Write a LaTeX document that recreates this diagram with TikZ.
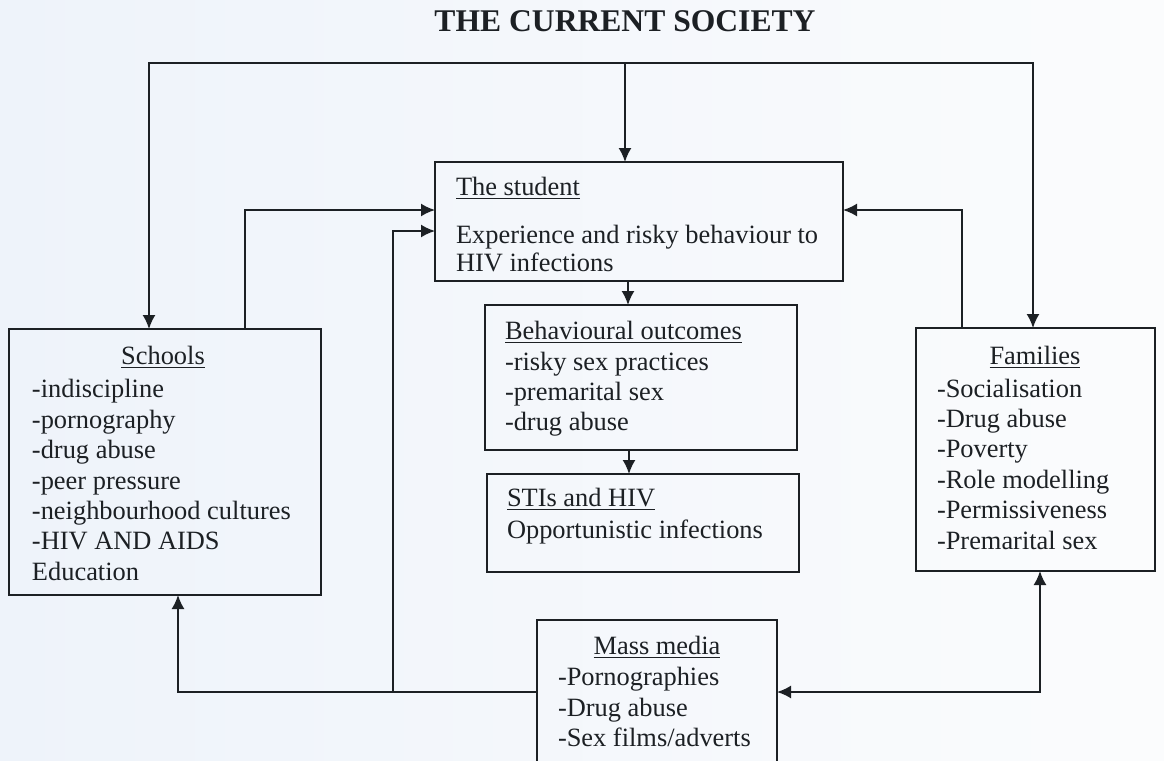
\documentclass[tikz,border=0pt]{standalone}
\usepackage{fontspec}
\setmainfont{Liberation Serif}
\usepackage{xcolor}
\usetikzlibrary{calc,shapes,arrows.meta}

\definecolor{ink}{RGB}{28,32,36}
\definecolor{paperL}{RGB}{238,243,250}
\definecolor{paperR}{RGB}{251,252,253}

\begin{document}
\begin{tikzpicture}[x=0.5pt, y=-0.5pt,
    box/.style={rectangle, draw=ink, line width=1pt, inner sep=0pt, outer sep=0pt, anchor=north west},
    txt/.style={inner sep=0pt, outer sep=0pt, text=ink, align=left, font=\fontsize{13.2}{15.2}\selectfont},
    arr/.style={draw=ink, line width=0.9pt, -{Latex[length=7pt,width=6.5pt]}},
    arrboth/.style={draw=ink, line width=0.9pt, {Latex[length=7pt,width=6.5pt]}-{Latex[length=7pt,width=6.5pt]}}]
    \useasboundingbox (0,0) rectangle (1164,761);
    \shade[left color=paperL, right color=paperR] (0,0) rectangle (1164,761);
    \clip (0,0) rectangle (1164,761);
    % Place nodes
    \node [txt, font=\fontsize{15.8}{18}\selectfont\bfseries] (title) at (625,21) {THE CURRENT SOCIETY};
    \node [box, minimum width=204pt, minimum height=59.5pt] (student) at (435,162) {};
    \node [box, minimum width=156pt, minimum height=72.5pt] (behav) at (485,305) {};
    \node [box, minimum width=156pt, minimum height=49pt] (sti) at (487,474) {};
    \node [box, minimum width=120pt, minimum height=80pt] (media) at (537,620) {};
    \node [box, minimum width=156pt, minimum height=133pt] (schools) at (9,329) {};
    \node [box, minimum width=119.5pt, minimum height=121.5pt] (families) at (916,328) {};
    % Texts in the boxes
    \node [txt, anchor=west] (stuTitle) at (456,188) {\underline{The student}};
    \node [txt, anchor=west] (stuText) at (456,249) {Experience and risky behaviour to\\[-1.2pt]HIV infections};
    \node [txt, anchor=west] (behText) at (505,379) {\underline{Behavioural outcomes}\\-risky sex practices\\-premarital sex\\-drug abuse};
    \node [txt, anchor=west] (stiText) at (507,516) {\underline{STIs and HIV}\\[0.8pt]Opportunistic infections};
    \node [txt] (medTitle) at (657,647) {\underline{Mass media}};
    \node [txt, anchor=west] (medList) at (558,707) {-Pornographies\\-Drug abuse\\-Sex films/adverts};
    \node [txt] (schTitle) at (163,357) {\underline{Schools}};
    \node [txt, anchor=west] (schList) at (32,480) {-indiscipline\\-pornography\\-drug abuse\\-peer pressure\\-neighbourhood cultures\\-HIV AND AIDS\\Education};
    \node [txt] (famTitle) at (1035,357) {\underline{Families}};
    \node [txt, anchor=west] (famList) at (937,464) {-Socialisation\\-Drug abuse\\-Poverty\\-Role modelling\\-Permissiveness\\-Premarital sex};
    % Bends of the connectors
    \coordinate (topL) at (149,63);
    \coordinate (topM) at (625,63);
    \coordinate (topR) at (1033,63);
    \coordinate (sA) at (245,210);
    \coordinate (fA) at (962,210);
    \coordinate (sB) at (393,231);
    \coordinate (mL) at (393,692);
    \coordinate (mS) at (178,692);
    \coordinate (mF) at (1040,692);
    % Draw connectors
    \path[arrboth] (topL |- schools.north) -- (topL) -- (topR) -- (topR |- families.north);
    \path[arr] (topM) -- (topM |- student.north);
    \path[arr] (sA |- schools.north) |- (student.west |- sA);
    \path[arr] (fA |- families.north) |- (student.east |- fA);
    \path[arr] ([xshift=-5.5pt]student.south) -- ([xshift=-5.5pt]student.south |- behav.north);
    \path[arr] ([xshift=-6pt]behav.south) -- ([xshift=-6pt]behav.south |- sti.north);
    \path[arr] (media.west |- mL) -- (mS) -- (mS |- schools.south);
    \path[arr] (mL) -- (sB) -- (student.west |- sB);
    \path[arrboth] (mF |- families.south) -- (mF) -- (media.east |- mF);
\end{tikzpicture}
\end{document}
